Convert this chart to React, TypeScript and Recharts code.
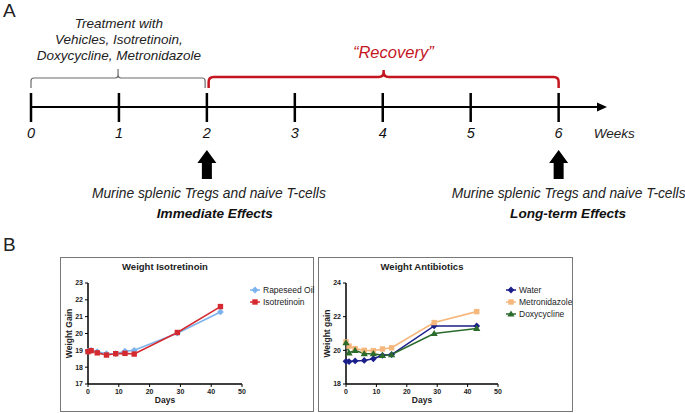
import React from "react";
import {
  LineChart,
  Line,
  XAxis,
  YAxis,
  ReferenceLine,
  ReferenceDot,
  ReferenceArea,
} from "recharts";

const FONT = '"Liberation Sans", Arial, sans-serif';

// ---- panel A: timeline (weeks) ----
const weeks = [0, 1, 2, 3, 4, 5, 6];
const treatmentLines = ["Treatment with", "Vehicles, Isotretinoin,", "Doxycycline, Metronidazole"];
const sampleWeeks = [2, 6];
const effectLabels = ["Immediate Effects", "Long-term Effects"];
const cellLabel = "Murine splenic Tregs and naive T-cells";
const recoveryLabel = "\u201cRecovery\u201d";

// ---- panel B: weight curves ----
const days = [0, 1, 3, 6, 9, 12, 15, 29, 43];
const rapeseedOil = [18.95, 19.0, 18.92, 18.8, 18.8, 18.95, 19.0, 20.02, 21.28];
const isotretinoin = [18.92, 18.98, 18.85, 18.72, 18.8, 18.82, 18.78, 20.06, 21.6];
const water = [19.35, 19.33, 19.37, 19.4, 19.5, 19.7, 19.75, 21.45, 21.45];
const metronidazole = [20.5, 20.25, 20.1, 20.0, 19.98, 20.08, 20.15, 21.65, 22.3];
const doxycycline = [20.45, 19.85, 20.0, 19.8, 19.8, 19.7, 19.75, 21.0, 21.3];
const dayTicks = [0, 10, 20, 30, 40, 50];
const isoTicks = [17, 18, 19, 20, 21, 22, 23];
const abxTicks = [18, 20, 22, 24];

const isoData = days.map((d, i) => ({ day: d, rapeseed: rapeseedOil[i], iso: isotretinoin[i] }));
const abxData = days.map((d, i) => ({
  day: d,
  water: water[i],
  metro: metronidazole[i],
  doxy: doxycycline[i],
}));

const RED = "#c4161f";

// vertical layout of the timeline (y axis of panel A runs in pixels, top = 0)
const AXIS_Y = 107;
const TICK_TOP = 93;
const TICK_BOTTOM = 122;
const WEEK_LABEL_Y = 138;

type Shape = "diamond" | "square" | "triangle";

const Marker = ({ shape, cx, cy, color }: { shape: Shape; cx: number; cy: number; color: string }) => {
  if (cx == null || cy == null) return null;
  if (shape === "square") return <rect x={cx - 2.7} y={cy - 2.7} width={5.4} height={5.4} fill={color} />;
  if (shape === "triangle")
    return <polygon points={`${cx},${cy - 3.6} ${cx + 3.6},${cy + 2.6} ${cx - 3.6},${cy + 2.6}`} fill={color} />;
  return <polygon points={`${cx},${cy - 3.4} ${cx + 3.4},${cy} ${cx},${cy + 3.4} ${cx - 3.4},${cy}`} fill={color} />;
};

const textShape =
  (text: string, style: React.CSSProperties, anchor: "start" | "middle" | "end" = "middle", dx = 0) =>
  (p: any) =>
    (
      <text x={p.cx + dx} y={p.cy} textAnchor={anchor} style={{ fontFamily: FONT, ...style }}>
        {text}
      </text>
    );

const braceShape = (bar: number, r: number, color: string, w: number) => (p: any) => {
  const { x, y, width, height } = p;
  const by = y + bar;
  const b = y + height;
  const cx = x + width / 2;
  const x2 = x + width;
  const d = `M${x},${b} L${x},${by + r} Q${x},${by} ${x + r},${by} L${cx - r},${by} Q${cx},${by} ${cx},${by - r} L${cx},${y} M${cx},${by - r} Q${cx},${by} ${cx + r},${by} L${x2 - r},${by} Q${x2},${by} ${x2},${by + r} L${x2},${b}`;
  return <path d={d} fill="none" stroke={color} strokeWidth={w} />;
};

const arrowShape = (p: any) => {
  const { cx, cy } = p;
  const pts = [
    [cx, cy],
    [cx + 9.5, cy + 13],
    [cx + 5, cy + 13],
    [cx + 5, cy + 29],
    [cx - 5, cy + 29],
    [cx - 5, cy + 13],
    [cx - 9.5, cy + 13],
  ];
  return <polygon points={pts.map((q) => q.join(",")).join(" ")} fill="#000" />;
};

const axisHead = (p: any) => {
  const { cx, cy } = p;
  return <polygon points={`${cx},${cy} ${cx - 10},${cy - 4.5} ${cx - 10},${cy + 4.5}`} fill="#000" />;
};

// small horizontal nudges of the captions under each arrow
const cellDx = [2, 10];
const effectDx = [8, 9.5];

const Timeline = () => (
  <LineChart
    width={685}
    height={235}
    data={weeks.map((w) => ({ week: w }))}
    margin={{ top: 0, right: 78, bottom: 0, left: 31 }}
    style={{ position: "absolute", left: 0, top: 0 }}
  >
    <XAxis type="number" dataKey="week" domain={[0, 6.55]} allowDataOverflow hide />
    <YAxis type="number" domain={[0, 235]} reversed allowDataOverflow hide />

    <ReferenceLine segment={[{ x: 0, y: AXIS_Y }, { x: 6.45, y: AXIS_Y }]} stroke="#000" strokeWidth={2} />
    <ReferenceDot x={6.55} y={AXIS_Y} r={0} shape={axisHead} />
    {weeks.map((w) => (
      <ReferenceLine
        key={"t" + w}
        segment={[{ x: w, y: TICK_TOP }, { x: w, y: TICK_BOTTOM }]}
        stroke="#000"
        strokeWidth={2.5}
      />
    ))}
    {weeks.map((w) => (
      <ReferenceDot
        key={"l" + w}
        x={w}
        y={WEEK_LABEL_Y}
        r={0}
        shape={textShape(String(w), { fontSize: 14.5, fontStyle: "italic", fill: "#111" })}
      />
    ))}
    <ReferenceDot
      x={6.4}
      y={WEEK_LABEL_Y}
      r={0}
      shape={textShape("Weeks", { fontSize: 13.5, fontStyle: "italic", fill: "#222" }, "start")}
    />

    {/* treatment bracket */}
    <ReferenceArea x1={0} x2={1.98} y1={69} y2={88} shape={braceShape(9, 3, "#6a6a6a", 1.2)} />
    {treatmentLines.map((t, i) => (
      <ReferenceDot
        key={t}
        x={1}
        y={28 + i * 16}
        r={0}
        shape={textShape(t, { fontSize: 13.5, fontStyle: "italic", fill: "#222" })}
      />
    ))}

    {/* recovery bracket */}
    <ReferenceArea x1={2.02} x2={6} y1={70} y2={88} shape={braceShape(7, 5, RED, 2.5)} />
    <ReferenceDot
      x={4.12}
      y={58}
      r={0}
      shape={textShape(recoveryLabel, { fontSize: 16.5, fontStyle: "italic", fill: RED })}
    />

    {sampleWeeks.map((w) => (
      <ReferenceDot key={"a" + w} x={w} y={150} r={0} shape={arrowShape} />
    ))}
    {sampleWeeks.map((w, i) => (
      <ReferenceDot
        key={"c" + w}
        x={w}
        y={198}
        r={0}
        shape={textShape(cellLabel, { fontSize: 13.8, fontStyle: "italic", fill: "#222" }, "middle", cellDx[i])}
      />
    ))}
    {sampleWeeks.map((w, i) => (
      <ReferenceDot
        key={"e" + w}
        x={w}
        y={218}
        r={0}
        shape={textShape(
          effectLabels[i],
          { fontSize: 13.6, fontStyle: "italic", fontWeight: "bold", fill: "#111" },
          "middle",
          effectDx[i]
        )}
      />
    ))}
  </LineChart>
);

type Series = { key: string; name: string; color: string; shape: Shape };

const isoSeries: Series[] = [
  { key: "rapeseed", name: "Rapeseed Oil", color: "#7db3ec", shape: "diamond" },
  { key: "iso", name: "Isotretinoin", color: "#d42a2f", shape: "square" },
];
const abxSeries: Series[] = [
  { key: "water", name: "Water", color: "#1b1f8a", shape: "diamond" },
  { key: "metro", name: "Metronidazole", color: "#f6b77c", shape: "square" },
  { key: "doxy", name: "Doxycycline", color: "#2b6b2b", shape: "triangle" },
];

const MiniLegend = ({ items, left }: { items: Series[]; left: number }) => (
  <div style={{ position: "absolute", left, top: 26, fontFamily: FONT, fontSize: 8.5, color: "#222" }}>
    {items.map((it) => (
      <div key={it.key} style={{ display: "flex", alignItems: "center", height: 12, whiteSpace: "nowrap" }}>
        <svg width={10} height={8} style={{ marginRight: 3 }}>
          <line x1={0} y1={4} x2={10} y2={4} stroke={it.color} strokeWidth={1.5} />
          <Marker shape={it.shape} cx={5} cy={4} color={it.color} />
        </svg>
        <span>{it.name}</span>
      </div>
    ))}
  </div>
);

const WeightPanel = ({
  left,
  width,
  marginRight,
  title,
  data,
  series,
  domain,
  ticks,
  yLabel,
}: {
  left: number;
  width: number;
  marginRight: number;
  title: string;
  data: any[];
  series: Series[];
  domain: [number, number];
  ticks: number[];
  yLabel: string;
}) => {
  const inner = width - 2;
  const plotLeft = 27;
  const plotRight = inner - marginRight;
  const plotCenter = (plotLeft + plotRight) / 2;
  return (
    <div
      style={{
        position: "absolute",
        left,
        top: 257,
        width,
        height: 155,
        border: "1px solid #777",
        boxSizing: "border-box",
        background: "#fff",
      }}
    >
      <div
        style={{
          position: "absolute",
          left: 0,
          top: 3,
          width: plotCenter * 2,
          textAlign: "center",
          fontFamily: FONT,
          fontWeight: "bold",
          fontSize: 9.5,
          color: "#222",
        }}
      >
        {title}
      </div>
      <LineChart
        width={inner}
        height={153}
        data={data}
        margin={{ top: 25, right: marginRight, bottom: 0, left: 5 }}
      >
        <XAxis
          dataKey="day"
          type="number"
          domain={[0, 50]}
          ticks={dayTicks}
          height={27}
          axisLine={{ stroke: "#000", strokeWidth: 1.5 }}
          tickLine={{ stroke: "#000" }}
          tickSize={3}
          tick={{ fontSize: 7, fontWeight: "bold", fill: "#222", fontFamily: FONT }}
          label={{
            content: (p: any) => (
              <text
                x={p.viewBox.x + p.viewBox.width / 2}
                y={p.viewBox.y + 19}
                textAnchor="middle"
                style={{ fontFamily: FONT, fontSize: 8.5, fontWeight: "bold", fill: "#222" }}
              >
                Days
              </text>
            ),
          }}
        />
        <YAxis
          type="number"
          domain={domain}
          ticks={ticks}
          width={22}
          interval={0}
          axisLine={{ stroke: "#000", strokeWidth: 1.5 }}
          tickLine={{ stroke: "#000" }}
          tickSize={3}
          tick={{ fontSize: 7, fontWeight: "bold", fill: "#222", fontFamily: FONT }}
          label={{
            content: (p: any) => {
              const x = p.viewBox.x + 3;
              const y = p.viewBox.y + p.viewBox.height / 2;
              return (
                <text
                  x={x}
                  y={y}
                  transform={`rotate(-90 ${x} ${y})`}
                  textAnchor="middle"
                  dominantBaseline="central"
                  style={{ fontFamily: FONT, fontSize: 8.5, fontWeight: "bold", fill: "#222" }}
                >
                  {yLabel}
                </text>
              );
            },
          }}
        />
        {series.map((s) => (
          <Line
            key={s.key}
            dataKey={s.key}
            name={s.name}
            stroke={s.color}
            strokeWidth={1.6}
            isAnimationActive={false}
            dot={(p: any) => <Marker key={s.key + p.index} shape={s.shape} cx={p.cx} cy={p.cy} color={s.color} />}
            activeDot={false}
          />
        ))}
      </LineChart>
      <MiniLegend items={series} left={plotRight + 8} />
    </div>
  );
};

const App = () => (
  <div style={{ position: "absolute", left: 0, top: 0, width: 685, height: 413, background: "#fff" }}>
    <Timeline />
    <div style={{ position: "absolute", left: 3, top: 0, fontFamily: FONT, fontSize: 19, color: "#222" }}>A</div>
    <div style={{ position: "absolute", left: 3, top: 234, fontFamily: FONT, fontSize: 19, color: "#222" }}>B</div>
    <WeightPanel
      left={60}
      width={254}
      marginRight={71}
      title="Weight Isotretinoin"
      data={isoData}
      series={isoSeries}
      domain={[17, 23]}
      ticks={isoTicks}
      yLabel="Weight Gain"
    />
    <WeightPanel
      left={318}
      width={255}
      marginRight={74}
      title="Weight Antibiotics"
      data={abxData}
      series={abxSeries}
      domain={[18, 24]}
      ticks={abxTicks}
      yLabel="Weight gain"
    />
  </div>
);

export default App;
